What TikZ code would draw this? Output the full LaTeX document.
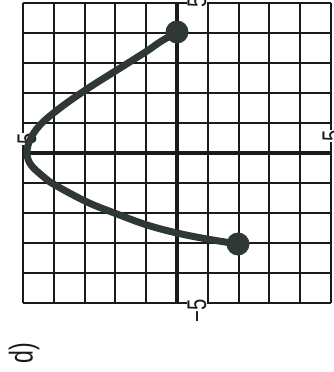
\documentclass[tikz,border=0pt]{standalone}
\usepackage{fontspec}
\setmainfont{Liberation Sans}
\definecolor{curvecol}{HTML}{303833}
\definecolor{gridcol}{HTML}{1A1A1A}
\begin{document}
\begin{tikzpicture}[x=1pt,y=-1pt,
  gridline/.style={line width=2.1pt, draw=gridcol},
  axisline/.style={line width=4pt, draw=gridcol},
  curvest/.style={line width=7pt, draw=curvecol, line cap=round, line join=round},
  dotst/.style={circle, fill=curvecol, minimum size=23pt, inner sep=0pt},
  lab/.style={rotate=90, fill=white, inner sep=0.5pt, text=gridcol, font=\fontsize{27}{27}\selectfont}]
\useasboundingbox (0,0) rectangle (333,372);
\fill[white] (0,0) rectangle (333,372);
\foreach \i in {0,...,10} \draw[gridline] ({23+\i*30.8},3) -- ({23+\i*30.8},303);
\foreach \j in {0,...,10} \draw[gridline] (23,{3+\j*30}) -- (331,{3+\j*30});
\draw[axisline] (177,3) -- (177,303);
\draw[axisline] (23,153) -- (331,153);
\node[lab] (ltop) at (197,2) {\scalebox{0.75}[1]{5}};
\node[lab] (lbot) at (197,311) {\scalebox{0.75}[1]{−5}};
\node[lab] (lleft) at (27,139) {\scalebox{0.75}[1]{5}};
\node[lab] (lright) at (332,136) {\scalebox{0.75}[1]{5}};
\node[rotate=90, text=gridcol, inner sep=0pt, font=\fontsize{33}{33}\selectfont] (dlab) at (24,353) {\scalebox{0.7}[1]{d)}};
\draw[curvest] plot[smooth, tension=0.6] coordinates {(177,32) (160,42) (147,51) (117,70) (87,89) (60,108) (40,125) (30,140) (27,153) (31,165) (45,178) (55,185) (87,202) (117,214) (147,225) (177,233) (207,239) (238,244)};
\node[dotst] (ptop) at (177,32) {};
\node[dotst] (pbot) at (238,244) {};
\end{tikzpicture}
\end{document}
